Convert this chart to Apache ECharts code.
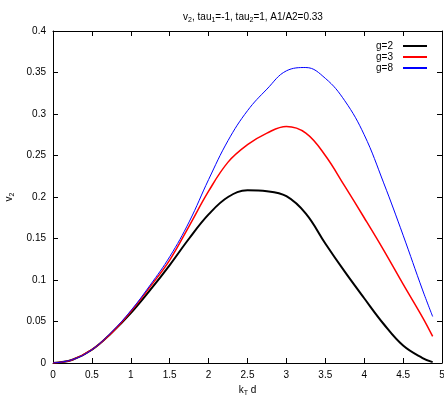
<!DOCTYPE html>
<html><head><meta charset="utf-8">
<script src="https://cdn.jsdelivr.net/npm/echarts@6/dist/echarts.min.js"></script>
<style>html,body{margin:0;padding:0;background:#fff}#c{width:444px;height:396px}</style>
</head><body><div id="c"></div>
<script>
const xs = [0, 0.25, 0.5, 0.75, 1, 1.25, 1.5, 1.75, 2, 2.25, 2.5, 2.75, 3, 3.25, 3.5, 3.75, 4, 4.25, 4.5, 4.75, 4.88];
const g2 = [0, 0.004, 0.016, 0.036, 0.060, 0.088, 0.118, 0.150, 0.179, 0.200, 0.208, 0.207, 0.201, 0.180, 0.144, 0.110, 0.078, 0.047, 0.021, 0.006, 0.001];
const g3 = [0, 0.004, 0.016, 0.036, 0.062, 0.092, 0.124, 0.165, 0.207, 0.242, 0.263, 0.277, 0.285, 0.277, 0.250, 0.213, 0.175, 0.136, 0.095, 0.055, 0.032];
const g8 = [0, 0.004, 0.016, 0.037, 0.063, 0.094, 0.128, 0.170, 0.221, 0.268, 0.304, 0.330, 0.352, 0.356, 0.343, 0.316, 0.275, 0.217, 0.154, 0.088, 0.056];
const names = ['g=2', 'g=3', 'g=8'];
const colors = ['#000000', '#ff0000', '#0000ff'];
const widths = [2, 1.5, 1];
const font = '"Liberation Sans Narrow", "Liberation Sans", Arial, sans-serif';

const chart = echarts.init(document.getElementById('c'));
const pairs = arr => xs.map((x, i) => [x, arr[i]]);
const tickStyle = {show: true, inside: true, length: 5, lineStyle: {color: '#000', width: 1}};
const rich = {
  t: {fontSize: 10, fontFamily: font, color: '#000', fontWeight: 'normal'},
  s: {fontSize: 7, fontFamily: font, color: '#000', fontWeight: 'normal', verticalAlign: 'bottom', padding: [6, 0, 0, 0]}
};
chart.setOption({
  animation: false,
  title: {
    text: '{t|v}{s|2}{t|, tau}{s|1}{t|=-1, tau}{s|2}{t|=1, A1/A2=0.33}',
    left: 248, top: 6, textAlign: 'center',
    textStyle: {fontWeight: 'normal', rich: rich}
  },
  legend: {
    orient: 'vertical', right: 12, top: 36, align: 'right',
    itemWidth: 24, itemHeight: 2, itemGap: 1, icon: 'rect',
    textStyle: {fontSize: 10, fontFamily: font, color: '#000', padding: [0, 5, 0, 0]},
    data: names
  },
  grid: {left: 53, right: 2, top: 31, bottom: 33, containLabel: false, outerBoundsMode: 'none'},
  xAxis: [{
    type: 'value', min: 0, max: 5, interval: 0.5,
    name: '{t|k}{s|T}{t| d}', nameLocation: 'middle', nameGap: 21,
    nameTextStyle: {rich: rich},
    axisLine: {show: true, onZero: false, lineStyle: {color: '#000', width: 1}},
    axisTick: tickStyle, splitLine: {show: false},
    axisLabel: {fontSize: 10, fontFamily: font, color: '#000', margin: 7}
  }, {
    type: 'value', min: 0, max: 5, interval: 0.5, position: 'top',
    axisLine: {show: true, onZero: false, lineStyle: {color: '#000', width: 1}},
    axisTick: tickStyle, axisLabel: {show: false}, splitLine: {show: false}
  }],
  yAxis: [{
    type: 'value', min: 0, max: 0.4, interval: 0.05,
    name: '{t|v}{s|2}', nameLocation: 'middle', nameGap: 35, nameRotate: 90,
    nameTextStyle: {rich: rich},
    axisLine: {show: true, onZero: false, lineStyle: {color: '#000', width: 1}},
    axisTick: tickStyle, splitLine: {show: false},
    axisLabel: {fontSize: 10, fontFamily: font, color: '#000', margin: 7,
      formatter: v => String(+v.toFixed(2))}
  }, {
    type: 'value', min: 0, max: 0.4, interval: 0.05, position: 'right',
    axisLine: {show: true, onZero: false, lineStyle: {color: '#000', width: 1}},
    axisTick: tickStyle, axisLabel: {show: false}, splitLine: {show: false}
  }],
  series: [g2, g3, g8].map((arr, i) => ({
    name: names[i], type: 'line', data: pairs(arr), smooth: 0.4,
    showSymbol: false, symbol: 'none', color: colors[i],
    lineStyle: {color: colors[i], width: widths[i]}
  }))
});
</script></body></html>
